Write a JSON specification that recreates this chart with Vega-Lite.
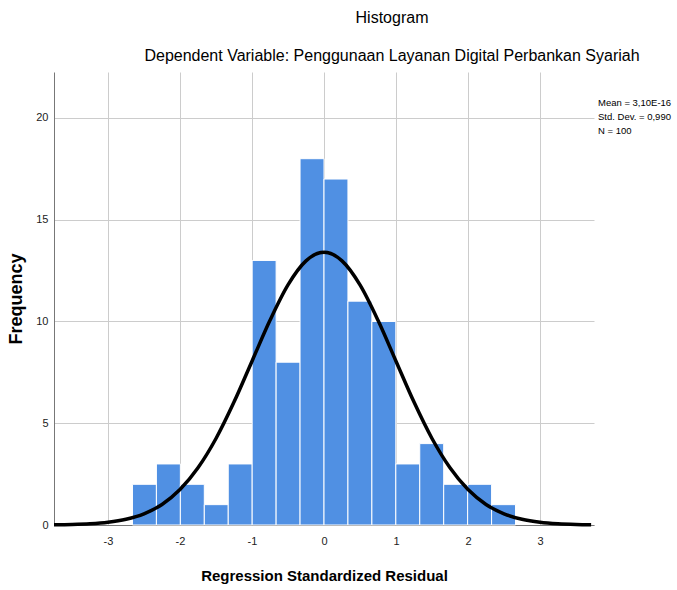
{
  "$schema": "https://vega.github.io/schema/vega-lite/v6.json",
  "width": 540,
  "height": 453,
  "autosize": {"type": "none"},
  "padding": {"left": 54, "top": 72, "right": 83, "bottom": 65},
  "background": "white",
  "config": {
    "view": {"stroke": null},
    "font": "Liberation Sans"
  },
  "title": {
    "text": "Histogram",
    "subtitle": "Dependent Variable: Penggunaan Layanan Digital Perbankan Syariah",
    "anchor": "middle",
    "dx": 68,
    "font": "Liberation Sans",
    "subtitleFont": "Liberation Sans",
    "fontSize": 16,
    "subtitleFontSize": 16,
    "fontWeight": "normal",
    "subtitleFontWeight": "normal",
    "color": "#000000",
    "subtitleColor": "#000000",
    "subtitlePadding": 22,
    "offset": 8
  },
  "layer": [
    {
      "data": {
        "values": [
          {"lo": -2.66, "hi": -2.3275, "count": 2},
          {"lo": -2.3275, "hi": -1.995, "count": 3},
          {"lo": -1.995, "hi": -1.6625, "count": 2},
          {"lo": -1.6625, "hi": -1.33, "count": 1},
          {"lo": -1.33, "hi": -0.9975, "count": 3},
          {"lo": -0.9975, "hi": -0.665, "count": 13},
          {"lo": -0.665, "hi": -0.3325, "count": 8},
          {"lo": -0.3325, "hi": 0, "count": 18},
          {"lo": 0, "hi": 0.3325, "count": 17},
          {"lo": 0.3325, "hi": 0.665, "count": 11},
          {"lo": 0.665, "hi": 0.9975, "count": 10},
          {"lo": 0.9975, "hi": 1.33, "count": 3},
          {"lo": 1.33, "hi": 1.6625, "count": 4},
          {"lo": 1.6625, "hi": 1.995, "count": 2},
          {"lo": 1.995, "hi": 2.3275, "count": 2},
          {"lo": 2.3275, "hi": 2.66, "count": 1}
        ]
      },
      "mark": {"type": "bar", "color": "#5090E3", "stroke": "#ffffff", "strokeWidth": 1},
      "encoding": {
        "x": {
          "field": "lo",
          "type": "quantitative",
          "scale": {"domain": [-3.75, 3.75], "nice": false, "zero": false},
          "axis": {
            "values": [-3, -2, -1, 0, 1, 2, 3],
            "labelExpr": "'' + datum.value",
            "title": "Regression Standardized Residual",
            "titleFont": "Liberation Sans",
            "titleFontSize": 15,
            "titleFontWeight": "bold",
            "titleColor": "#000000",
            "titlePadding": 22,
            "labelFontSize": 11,
            "labelColor": "#222222",
            "labelPadding": 10,
            "ticks": false,
            "domainColor": "#777777",
            "grid": true,
            "gridColor": "#cccccc",
            "labelFlush": false
          }
        },
        "x2": {"field": "hi"},
        "y": {
          "field": "count",
          "type": "quantitative",
          "scale": {"domain": [0, 22.26], "nice": false},
          "axis": {
            "values": [0, 5, 10, 15, 20],
            "format": "d",
            "title": "Frequency",
            "titleFont": "Liberation Sans",
            "titleFontSize": 18,
            "titleFontWeight": "bold",
            "titleColor": "#000000",
            "titlePadding": 10,
            "labelFontSize": 11,
            "labelColor": "#222222",
            "labelPadding": 6,
            "ticks": false,
            "domainColor": "#777777",
            "grid": true,
            "gridColor": "#cccccc",
            "labelFlush": false
          }
        },
        "y2": {"datum": 0}
      }
    },
    {
      "data": {
        "values": [
          {"x": -3.75, "f": 0.0103},
          {"x": -3.5, "f": 0.0259},
          {"x": -3.25, "f": 0.0612},
          {"x": -3.0, "f": 0.136},
          {"x": -2.75, "f": 0.283},
          {"x": -2.5, "f": 0.552},
          {"x": -2.25, "f": 1.01},
          {"x": -2.0, "f": 1.74},
          {"x": -1.75, "f": 2.81},
          {"x": -1.5, "f": 4.25},
          {"x": -1.25, "f": 6.04},
          {"x": -1.0, "f": 8.05},
          {"x": -0.75, "f": 10.06},
          {"x": -0.5, "f": 11.8},
          {"x": -0.25, "f": 12.98},
          {"x": 0, "f": 13.4},
          {"x": 0.25, "f": 12.98},
          {"x": 0.5, "f": 11.8},
          {"x": 0.75, "f": 10.06},
          {"x": 1.0, "f": 8.05},
          {"x": 1.25, "f": 6.04},
          {"x": 1.5, "f": 4.25},
          {"x": 1.75, "f": 2.81},
          {"x": 2.0, "f": 1.74},
          {"x": 2.25, "f": 1.01},
          {"x": 2.5, "f": 0.552},
          {"x": 2.75, "f": 0.283},
          {"x": 3.0, "f": 0.136},
          {"x": 3.25, "f": 0.0612},
          {"x": 3.5, "f": 0.0259},
          {"x": 3.71, "f": 0.0122}
        ]
      },
      "mark": {"type": "line", "color": "#000000", "strokeWidth": 3.5, "interpolate": "monotone"},
      "encoding": {
        "x": {"field": "x", "type": "quantitative"},
        "y": {"field": "f", "type": "quantitative"}
      }
    },
    {
      "data": {"values": [{}]},
      "mark": {
        "type": "text",
        "text": ["Mean = 3,10E-16", "Std. Dev. = 0,990", "N = 100"],
        "align": "left",
        "baseline": "top",
        "dx": 4,
        "fontSize": 9.5,
        "lineHeight": 14,
        "color": "#000000",
        "font": "Liberation Sans",
        "clip": false
      },
      "encoding": {
        "x": {"datum": 3.75, "type": "quantitative"},
        "y": {"datum": 21.0, "type": "quantitative"}
      }
    }
  ]
}
